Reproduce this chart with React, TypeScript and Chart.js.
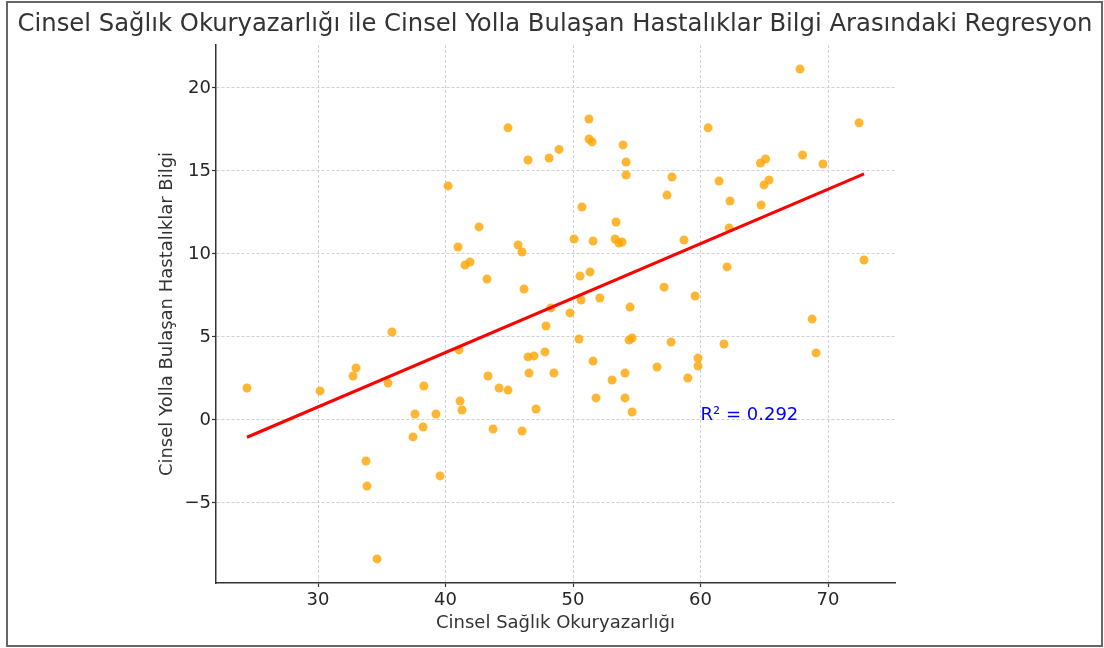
import { useEffect, useRef } from 'react';
import { Chart, registerables } from 'chart.js';

Chart.register(...registerables);

const TITLE = 'Cinsel Sağlık Okuryazarlığı ile Cinsel Yolla Bulaşan Hastalıklar Bilgi Arasındaki Regresyon';
const X_LABEL = 'Cinsel Sağlık Okuryazarlığı';
const Y_LABEL = 'Cinsel Yolla Bulaşan Hastalıklar Bilgi';

const X_TICKS = [30, 40, 50, 60, 70];
const Y_TICKS = [-5, 0, 5, 10, 15, 20];

// Cinsel Sağlık Okuryazarlığı (x)
const literacy = [
  24.43, 30.16, 32.75, 32.98, 33.76, 33.84, 34.63, 35.49, 35.8, 37.45,
  37.6, 38.24, 38.3, 39.25, 39.57, 40.2, 40.98, 41.06, 41.14, 41.29,
  41.53, 41.92, 42.63, 43.25, 43.33, 43.73, 44.2, 44.9, 44.9, 45.69,
  46.0, 46.0, 46.16, 46.47, 46.47, 46.55, 46.94, 47.1, 47.8, 47.88,
  48.12, 48.27, 48.5, 48.9, 49.76, 50.08, 50.47, 50.55, 50.63, 50.7,
  51.25, 51.25, 51.49, 51.33, 51.57, 51.57, 51.8, 52.1, 53.06, 53.3,
  53.37, 53.6, 53.84, 53.92, 54.08, 54.08, 54.16, 54.16, 54.47, 54.4,
  54.63, 54.63, 56.59, 57.14, 57.37, 57.69, 57.76, 58.7, 59.0, 59.57,
  59.8, 59.8, 60.59, 61.45, 61.84, 62.08, 62.24, 62.31, 64.7, 65.1,
  64.75, 64.98, 65.37, 67.8, 68.0, 68.75, 69.06, 69.6, 72.43, 72.82,
];

// Cinsel Yolla Bulaşan Hastalıklar Bilgi (y)
const knowledge = [
  1.93, 1.75, 2.65, 3.13, -2.47, -3.98, -8.37, 2.23, 5.3, -1.02,
  0.36, -0.42, 2.05, 0.36, -3.37, 14.1, 10.42, 4.22, 1.14, 0.6,
  9.34, 9.52, 11.63, 8.49, 2.65, -0.54, 1.93, 17.6, 1.8, 10.54,
  10.12, -0.66, 7.89, 15.66, 3.8, 2.83, 3.86, 0.66, 4.1, 5.66,
  15.78, 6.75, 2.83, 16.3, 6.45, 10.9, 4.88, 8.67, 7.23, 12.83,
  18.13, 16.93, 16.75, 8.92, 10.78, 3.55, 1.33, 7.35, 2.41, 10.9,
  11.93, 10.66, 10.72, 16.57, 2.83, 1.33, 15.54, 14.76, 6.8, 4.82,
  4.94, 0.48, 3.19, 8.0, 13.55, 4.7, 14.64, 10.84, 2.53, 7.47,
  3.73, 3.25, 17.6, 14.4, 4.58, 9.22, 11.57, 13.19, 15.48, 15.72,
  12.95, 14.16, 14.46, 21.14, 15.96, 6.08, 4.04, 15.42, 17.9, 9.64,
];

// Regression line end points
const fitX = [24.43, 72.82];
const fitY = [-1.04, 14.82];

const R2_TEXT = 'R² = 0.292';
const R2_X = 60;
const R2_Y = 0;

const FONT = '"DejaVu Sans", sans-serif';

const overlayPlugin = {
  id: 'overlay',
  afterDraw(chart: any) {
    const ctx = chart.ctx as CanvasRenderingContext2D;
    const xs = chart.scales.x;
    const ys = chart.scales.y;
    ctx.save();
    ctx.fillStyle = '#333333';
    ctx.font = `24.3px ${FONT}`;
    ctx.textAlign = 'center';
    ctx.textBaseline = 'middle';
    ctx.fillText(TITLE, chart.width / 2 + 3, 25);

    ctx.fillStyle = '#0000ff';
    ctx.font = `18px ${FONT}`;
    ctx.textAlign = 'left';
    ctx.textBaseline = 'alphabetic';
    ctx.fillText(R2_TEXT, xs.getPixelForValue(R2_X), ys.getPixelForValue(R2_Y));

    ctx.strokeStyle = '#666666';
    ctx.lineWidth = 2;
    ctx.strokeRect(7, 2, 1095, 644);
    ctx.restore();
  },
};

export default function App() {
  const canvasRef = useRef<HTMLCanvasElement | null>(null);

  useEffect(() => {
    const canvas = canvasRef.current;
    if (!canvas) return;
    const points = literacy.map((x, i) => ({ x, y: knowledge[i] }));
    const line = fitX.map((x, i) => ({ x, y: fitY[i] }));

    const chart = new Chart(canvas, {
      type: 'scatter',
      data: {
        datasets: [
          {
            label: 'Regresyon',
            data: line,
            showLine: true,
            borderColor: '#ff0000',
            borderWidth: 3,
            pointRadius: 0,
            fill: false,
          },
          {
            label: 'Veri',
            data: points,
            backgroundColor: 'rgba(255,165,0,0.8)',
            borderWidth: 0,
            pointRadius: 4.5,
          },
        ],
      },
      options: {
        responsive: false,
        animation: false,
        layout: { padding: { top: 45, right: 209, bottom: 0, left: 0 } },
        plugins: {
          legend: { display: false },
          tooltip: { enabled: false },
          title: { display: false },
        },
        scales: {
          x: {
            type: 'linear',
            min: 22.0,
            max: 75.25,
            afterBuildTicks: (scale: any) => {
              scale.ticks = X_TICKS.map((v) => ({ value: v }));
            },
            afterFit: (scale: any) => {
              scale.height = 65;
            },
            ticks: {
              font: { family: FONT, size: 18 },
              color: '#262626',
              padding: 3,
              maxRotation: 0,
            },
            grid: {
              color: '#d0d0d0',
              lineWidth: 1,
              drawTicks: true,
              tickLength: 4,
              tickColor: '#333333',
              tickWidth: 1.2,
            },
            border: { display: true, color: '#333333', width: 1.5, dash: [3, 2] },
            title: {
              display: true,
              text: X_LABEL,
              font: { family: FONT, size: 18 },
              color: '#333333',
              padding: { top: 0, bottom: 14 },
            },
          },
          y: {
            type: 'linear',
            min: -9.82,
            max: 22.59,
            afterBuildTicks: (scale: any) => {
              scale.ticks = Y_TICKS.map((v) => ({ value: v }));
            },
            afterFit: (scale: any) => {
              scale.width = 216;
            },
            ticks: {
              font: { family: FONT, size: 18 },
              color: '#262626',
              padding: 1,
              callback: (v: any) => (Number(v) < 0 ? '\u2212' + Math.abs(Number(v)) : String(v)),
            },
            grid: {
              color: '#d0d0d0',
              lineWidth: 1,
              drawTicks: true,
              tickLength: 4,
              tickColor: '#333333',
              tickWidth: 1.2,
            },
            border: { display: true, color: '#333333', width: 1.5, dash: [3, 2] },
            title: {
              display: true,
              text: Y_LABEL,
              font: { family: FONT, size: 18 },
              color: '#333333',
              padding: { top: 157, bottom: 0 },
            },
          },
        },
      },
      plugins: [overlayPlugin],
    });
    return () => chart.destroy();
  }, []);

  return (
    <div style={{ position: 'absolute', left: 0, top: 0, width: 1104, height: 648, background: '#ffffff' }}>
      <canvas ref={canvasRef} width={1104} height={648} style={{ display: 'block' }} />
    </div>
  );
}
